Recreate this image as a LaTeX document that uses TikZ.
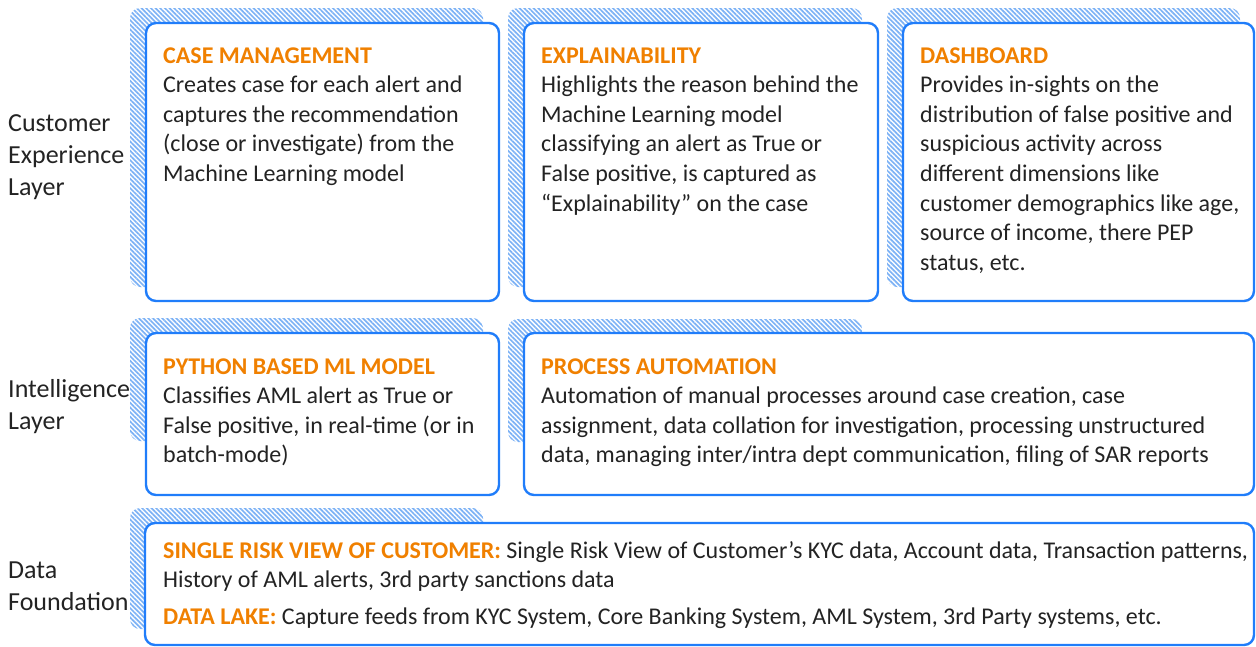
\documentclass[tikz,border=0pt]{standalone}
\usepackage{fontspec}
\setmainfont{Carlito}
\usetikzlibrary{patterns.meta}
\definecolor{boxblue}{RGB}{32,125,250}
\definecolor{hatchblue}{RGB}{125,178,245}
\definecolor{headorange}{RGB}{240,128,0}
\definecolor{txt}{RGB}{35,35,35}
\tikzset{
  panel/.style={draw=boxblue, line width=2.4pt, rounded corners=10pt, fill=white, anchor=north west, inner sep=0pt, outer sep=0pt},
  hatchshade/.style={rounded corners=10pt, pattern={Lines[angle=135,distance=3.3pt,line width=1.7pt]}, pattern color=hatchblue},
  body/.style={anchor=base west, inner sep=0pt, text=txt, font=\fontsize{24}{29.6}\selectfont},
  layer/.style={anchor=base west, inner sep=0pt, text=txt, font=\fontsize{26}{32}\selectfont},
}
\newcommand{\hd}[1]{\textcolor{headorange}{\bfseries #1}}
\begin{document}
\begin{tikzpicture}[x=1pt,y=-1pt]
\useasboundingbox (0,0) rectangle (1256,646);
% hatched shadows
\path[hatchshade] (130,8) rectangle (483,287);
\path[hatchshade] (508,8) rectangle (862,287);
\path[hatchshade] (887,8) rectangle (1240,287);
\path[hatchshade] (130,318) rectangle (483,441);
\path[hatchshade] (508,319) rectangle (862,442);
\path[hatchshade] (130,508) rectangle (483,629);
% panels
\node[panel, minimum width=353pt, minimum height=278pt] (b1) at (146,23) {};
\node[panel, minimum width=354pt, minimum height=278pt] (b2) at (524,23) {};
\node[panel, minimum width=351pt, minimum height=278pt] (b3) at (903,23) {};
\node[panel, minimum width=353pt, minimum height=162pt] (b4) at (146,333) {};
\node[panel, minimum width=730pt, minimum height=162pt] (b5) at (524,333) {};
\node[panel, minimum width=1109pt, minimum height=122pt] (b6) at (145,523) {};
% panel texts
\node[body] (t1) at (163,63) {\parbox[t]{400pt}{\raggedright\hd{CASE MANAGEMENT}\\
Creates case for each alert and\\
captures the recommendation\\
(close or investigate) from the\\
Machine Learning model}};
\node[body] (t2) at (541,63) {\parbox[t]{400pt}{\raggedright\hd{EXPLAINABILITY}\\
Highlights the reason behind the\\
Machine Learning model\\
classifying an alert as True or\\
False positive, is captured as\\
“Explainability” on the case}};
\node[body] (t3) at (920,63) {\parbox[t]{400pt}{\raggedright\hd{DASHBOARD}\\
Provides in-sights on the\\
distribution of false positive and\\
suspicious activity across\\
different dimensions like\\
customer demographics like age,\\
source of income, there PEP\\
status, etc.}};
\node[body] (t4) at (163,374) {\parbox[t]{400pt}{\raggedright\hd{PYTHON BASED ML MODEL}\\
Classifies AML alert as True or\\
False positive, in real-time (or in\\
batch-mode)}};
\node[body] (t5) at (541,374) {\parbox[t]{760pt}{\raggedright\hd{PROCESS AUTOMATION}\\
Automation of manual processes around case creation, case\\
assignment, data collation for investigation, processing unstructured\\
data, managing inter/intra dept communication, filing of SAR reports}};
\node[body] (t6) at (163,558) {\parbox[t]{1150pt}{\raggedright\hd{SINGLE RISK VIEW OF CUSTOMER:} Single Risk View of Customer’s KYC data, Account data, Transaction patterns,\\
History of AML alerts, 3rd party sanctions data}};
\node[body] (t7) at (163,624) {\parbox[t]{1150pt}{\raggedright\hd{DATA LAKE:} Capture feeds from KYC System, Core Banking System, AML System, 3rd Party systems, etc.}};
% layer labels
\node[layer] (l1) at (8,131) {\parbox[t]{150pt}{\raggedright Customer\\Experience\\Layer}};
\node[layer] (l2) at (8,397) {\parbox[t]{150pt}{\raggedright Intelligence\\Layer}};
\node[layer] (l3) at (8,578) {\parbox[t]{150pt}{\raggedright Data\\Foundation}};
\end{tikzpicture}
\end{document}
